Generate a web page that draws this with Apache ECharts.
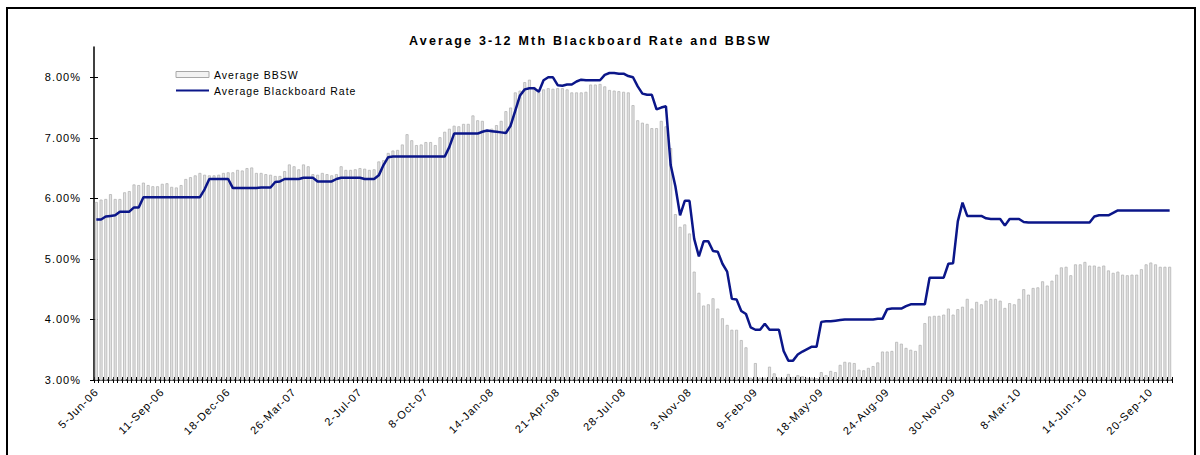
<!DOCTYPE html>
<html><head><meta charset="utf-8">
<script src="https://cdn.jsdelivr.net/npm/echarts@6/dist/echarts.min.js"></script>
<style>
html,body{margin:0;padding:0;background:#fff}
#chart{width:1200px;height:455px}
#chart svg text{letter-spacing:1px}
#chart svg text[style*="bold"]{letter-spacing:2.2px}
</style></head><body><div id="chart"></div>
<script>
// Weekly observations starting 5-Jun-06
const startDate = [2006, 5, 5];
const weekCount = 229;
const labelStep = 14;
const yTicks = [3, 4, 5, 6, 7, 8];

const bbsw = [
  5.94,5.98,5.99,6.07,5.99,5.99,6.10,6.12,6.23,6.22,
  6.26,6.22,6.20,6.20,6.24,6.25,6.19,6.18,6.22,6.32,
  6.35,6.38,6.42,6.39,6.38,6.38,6.39,6.42,6.43,6.43,
  6.47,6.46,6.50,6.51,6.42,6.42,6.40,6.39,6.37,6.37,
  6.45,6.56,6.53,6.48,6.56,6.53,6.40,6.39,6.42,
  6.40,6.38,6.40,6.53,6.47,6.47,6.48,6.50,6.49,6.47,
  6.48,6.61,6.63,6.75,6.79,6.80,6.89,7.06,6.96,6.88,
  6.89,6.93,6.93,6.88,7.01,7.10,7.15,7.20,7.19,7.23,
  7.23,7.37,7.29,7.28,7.10,7.15,7.21,7.28,7.44,7.50,
  7.75,7.78,7.92,7.96,7.84,7.75,7.80,7.82,7.81,7.82,
  7.82,7.80,7.75,7.75,7.75,7.76,7.88,7.88,7.89,7.85,
  7.79,7.78,7.77,7.76,7.75,7.54,7.29,7.25,7.23,
  7.16,7.16,7.28,7.19,6.83,5.74,5.53,5.57,5.42,4.79,
  4.44,4.23,4.25,4.35,4.18,4.02,3.91,3.83,3.83,3.66,
  3.54,3.04,3.28,3.04,3.04,3.22,3.11,3.04,3.04,3.10,
  3.05,3.08,3.06,3.04,3.04,3.03,3.13,3.08,3.15,3.13,
  3.25,3.30,3.29,3.28,3.17,3.16,3.20,3.23,3.29,3.47,
  3.47,3.48,3.63,3.60,3.53,3.50,3.48,3.58,3.94,4.05,
  4.06,4.06,4.08,4.18,4.08,4.17,4.21,4.34,4.18,4.29,
  4.25,4.31,4.34,4.34,4.31,4.19,4.27,4.25,4.34,
  4.50,4.41,4.52,4.53,4.63,4.56,4.64,4.74,4.86,4.87,
  4.73,4.91,4.91,4.95,4.89,4.89,4.87,4.89,4.81,4.77,
  4.79,4.74,4.73,4.74,4.74,4.83,4.91,4.94,4.91,4.87,
  4.87,4.87
];

const blackboard = [
  5.65,5.65,5.70,5.71,5.72,5.78,5.78,5.78,5.85,5.85,
  6.02,6.02,6.02,6.02,6.02,6.02,6.02,6.02,6.02,6.02,
  6.02,6.02,6.02,6.15,6.32,6.32,6.32,6.32,6.32,6.17,
  6.17,6.17,6.17,6.17,6.17,6.18,6.18,6.18,6.27,6.28,
  6.32,6.32,6.32,6.32,6.34,6.34,6.34,6.28,6.28,
  6.28,6.28,6.32,6.34,6.34,6.34,6.34,6.34,6.32,6.32,
  6.32,6.38,6.55,6.68,6.69,6.69,6.69,6.69,6.69,6.69,
  6.69,6.69,6.69,6.69,6.69,6.69,6.85,7.07,7.07,7.07,
  7.07,7.07,7.07,7.10,7.12,7.11,7.10,7.09,7.08,7.20,
  7.45,7.70,7.80,7.82,7.82,7.76,7.95,8.00,8.00,7.87,
  7.86,7.88,7.88,7.93,7.96,7.95,7.95,7.95,7.95,8.04,
  8.07,8.07,8.06,8.06,8.02,8.00,7.85,7.73,7.71,
  7.71,7.47,7.50,7.52,6.55,6.20,5.72,5.96,5.96,5.33,
  5.04,5.29,5.29,5.13,5.12,4.92,4.79,4.34,4.33,4.14,
  4.09,3.87,3.83,3.83,3.93,3.83,3.83,3.83,3.48,3.32,
  3.32,3.42,3.47,3.51,3.55,3.55,3.96,3.97,3.97,3.98,
  3.99,4.00,4.00,4.00,4.00,4.00,4.00,4.00,4.01,4.01,
  4.17,4.18,4.18,4.18,4.22,4.25,4.25,4.25,4.25,4.69,
  4.69,4.69,4.69,4.92,4.93,5.62,5.93,5.71,5.71,5.71,
  5.71,5.67,5.66,5.66,5.66,5.55,5.66,5.66,5.66,
  5.61,5.60,5.60,5.60,5.60,5.60,5.60,5.60,5.60,5.60,
  5.60,5.60,5.60,5.60,5.60,5.70,5.72,5.72,5.72,5.76,
  5.80,5.80,5.80,5.80,5.80,5.80,5.80,5.80,5.80,5.80,
  5.80,5.80
];

const monthNames = ['Jan','Feb','Mar','Apr','May','Jun','Jul','Aug','Sep','Oct','Nov','Dec'];
const categories = [];
for (let i = 0; i < weekCount; i++) {
  const d = new Date(Date.UTC(startDate[0], startDate[1], startDate[2] + 7 * i));
  categories.push(d.getUTCDate() + '-' + monthNames[d.getUTCMonth()] + '-' + String(d.getUTCFullYear()).slice(2));
}

const font = 'Liberation Sans, Arial, sans-serif';
const navy = '#0b1689';
const chart = echarts.init(document.getElementById('chart'), null, {renderer: 'svg'});
chart.setOption({
  animation: false,
  backgroundColor: '#ffffff',
  title: {
    text: 'Average 3-12 Mth Blackboard Rate and BBSW',
    left: 409, top: 34, padding: 0,
    textStyle: {fontFamily: font, fontSize: 12.5, fontWeight: 'bold', color: '#000'}
  },
  graphic: [{
    type: 'rect', silent: true,
    shape: {x: 7, y: 8, width: 1188, height: 470},
    style: {fill: 'none', stroke: '#000', lineWidth: 2}
  }],
  legend: {
    orient: 'vertical', left: 175, top: 69, padding: 0,
    itemWidth: 33, itemHeight: 6, itemGap: 5,
    textStyle: {fontFamily: font, fontSize: 10.5, color: '#000'},
    data: [
      {name: 'Average BBSW', icon: 'rect', itemStyle: {color: '#f2f2f2', borderColor: '#a8a8a8', borderWidth: 1}},
      {name: 'Average Blackboard Rate', itemStyle: {opacity: 0}}
    ]
  },
  grid: {left: 94, right: 28, top: 47, bottom: 75, containLabel: false},
  xAxis: [{
    type: 'category', data: categories, boundaryGap: true, position: 'bottom',
    axisLine: {show: true, lineStyle: {color: '#000', width: 1.5}},
    axisTick: {show: true, interval: 0, length: 3, lineStyle: {color: '#000', width: 1}},
    axisLabel: {interval: labelStep - 1, rotate: 45, fontFamily: font, fontSize: 11, color: '#000', margin: 10},
    splitLine: {show: false}
  }, {
    type: 'category', data: categories, boundaryGap: true, position: 'bottom',
    axisLine: {show: false},
    axisTick: {show: true, interval: 0, inside: true, length: 3, lineStyle: {color: '#000', width: 1}},
    axisLabel: {show: false}, splitLine: {show: false}
  }],
  yAxis: [{
    type: 'value', min: 3, max: 8.5, interval: 1, position: 'left',
    axisLine: {show: true, lineStyle: {color: '#000', width: 1.5}},
    axisTick: {show: true, length: 4, customValues: yTicks, lineStyle: {color: '#000'}},
    axisLabel: {customValues: yTicks, fontFamily: font, fontSize: 11, color: '#000', margin: 13,
      formatter: v => (Number.isInteger(v) ? v.toFixed(2) + '%' : '')},
    splitLine: {show: false}
  }, {
    type: 'value', min: 3, max: 8.5, interval: 1, position: 'left',
    axisLine: {show: false},
    axisTick: {show: true, inside: true, length: 4, customValues: yTicks, lineStyle: {color: '#000'}},
    axisLabel: {show: false}, splitLine: {show: false}
  }],
  series: [{
    name: 'Average BBSW', type: 'bar', data: bbsw, xAxisIndex: 0, yAxisIndex: 0,
    barWidth: 3,
    itemStyle: {color: '#e2e2e2', borderColor: '#b5b5b5', borderWidth: 0.8}
  }, {
    name: 'Average Blackboard Rate', type: 'line', data: blackboard, xAxisIndex: 0, yAxisIndex: 0,
    symbol: 'none', showSymbol: false,
    lineStyle: {color: navy, width: 2.5},
    itemStyle: {color: navy}
  }]
});
</script></body></html>
